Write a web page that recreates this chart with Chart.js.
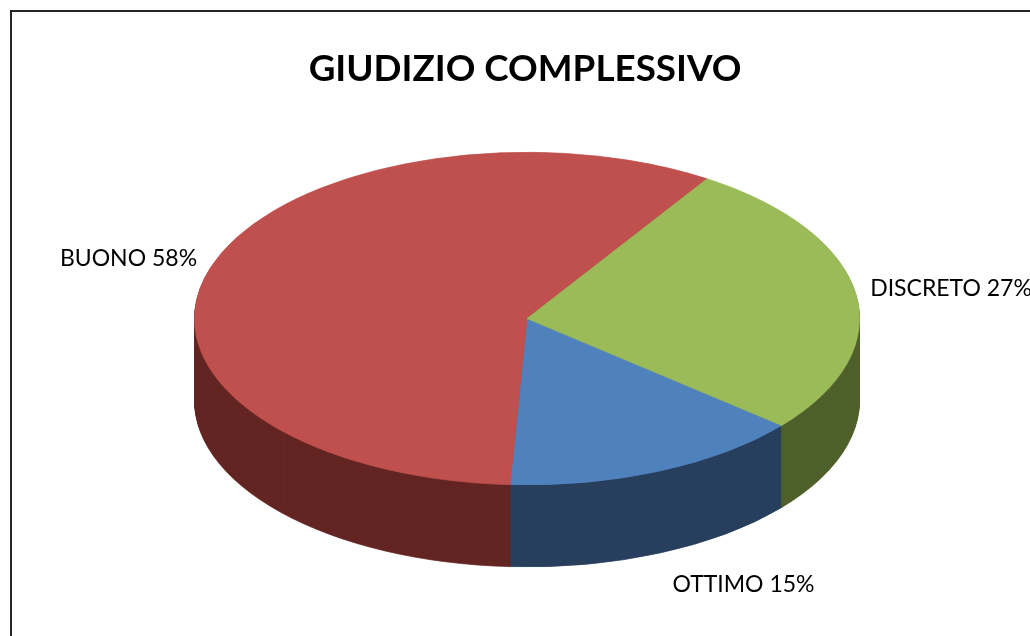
<!DOCTYPE html>
<html>
<head>
<meta charset="utf-8">
<style>html,body{margin:0;padding:0;background:#fff}canvas{display:block}</style>
<script src="https://cdn.jsdelivr.net/npm/chart.js@4"></script>
</head>
<body>
<div style="width:1030px;height:636px"><canvas id="c" width="1030" height="636"></canvas></div>
<script>
const chartTitle = 'GIUDIZIO COMPLESSIVO';
const categories = ['OTTIMO', 'BUONO', 'DISCRETO'];
const values = [14.7, 58.3, 27];
const topColors = ['#4F81BD', '#C0504D', '#9BBB59'];
const sideColors = ['#283F5E', '#632523', '#4F602B'];
const labelAnchors = [[743.5, 585], [128.5, 259], [951, 289]];

const TILT = 0.5, DEPTH = 82;

function tilted(ctx, el, dy, fn) {
  ctx.save();
  ctx.translate(el.x, el.y + dy);
  ctx.scale(1, TILT);
  ctx.translate(-el.x, -el.y);
  fn();
  ctx.restore();
}

const pie3d = {
  id: 'pie3d',
  afterLayout(chart) {
    chart.titleBlock.left = 20;
    chart.titleBlock.right = 1030;
  },
  beforeDraw(chart) {
    const c = chart.ctx;
    c.save();
    c.strokeStyle = '#262626';
    c.lineWidth = 2;
    c.beginPath();
    c.moveTo(11, 636);
    c.lineTo(11, 11);
    c.lineTo(1030, 11);
    c.stroke();
    c.restore();
  },
  beforeDatasetDraw(chart) {
    const c = chart.ctx, arcs = chart.getDatasetMeta(0).data;
    // side wall: the same arc elements repeated downward in the darker colour
    for (let dy = DEPTH; dy >= 1; dy--) {
      arcs.forEach((arc, i) => {
        const o = arc.options, bg = o.backgroundColor, bc = o.borderColor;
        o.backgroundColor = sideColors[i];
        o.borderColor = sideColors[i];
        tilted(c, arc, dy, () => arc.draw(c));
        o.backgroundColor = bg; o.borderColor = bc;
      });
    }
    const first = arcs[0];
    c.save();
    c.translate(first.x, first.y);
    c.scale(1, TILT);
    c.translate(-first.x, -first.y);
  },
  afterDatasetDraw(chart) {
    const c = chart.ctx;
    c.restore();
    c.save();
    c.fillStyle = '#000';
    c.font = '23px Lato';
    c.textAlign = 'center';
    c.textBaseline = 'middle';
    categories.forEach((name, i) => {
      c.fillText(name + ' ' + Math.round(values[i]) + '%', labelAnchors[i][0], labelAnchors[i][1]);
    });
    c.restore();
  }
};

new Chart(document.getElementById('c'), {
  type: 'pie',
  data: {
    labels: categories,
    datasets: [{
      data: values,
      backgroundColor: topColors,
      borderColor: topColors,
      borderWidth: 1,
      radius: 332.5
    }]
  },
  options: {
    responsive: false,
    animation: false,
    rotation: 130,
    layout: { padding: { left: 24, right: 0, top: 0, bottom: 90 } },
    plugins: {
      legend: { display: false },
      tooltip: { enabled: false },
      title: {
        display: true,
        text: chartTitle,
        color: '#000',
        font: { family: 'Lato', size: 36.8, weight: 'bold' },
        padding: { top: 47, bottom: 0 }
      }
    }
  },
  plugins: [pie3d]
});
</script>
</body>
</html>
